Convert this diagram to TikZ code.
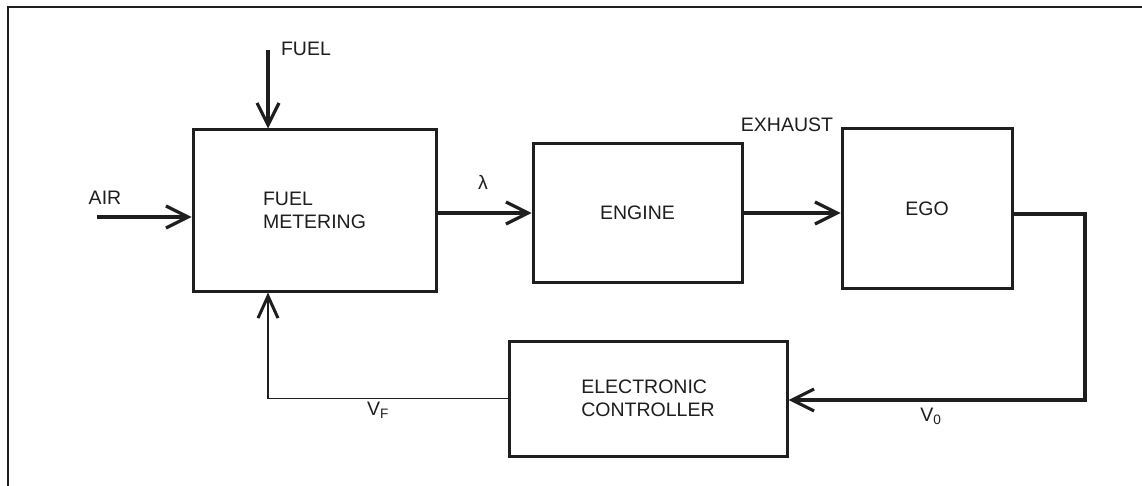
\documentclass[tikz,border=0pt]{standalone}
\usepackage{fontspec}
\setmainfont{Liberation Sans}
\usepackage{xcolor}
\usetikzlibrary{arrows.meta,positioning}

\definecolor{ink}{HTML}{1E1E1E}

\begin{document}
\begin{tikzpicture}[
  x=1pt, y=-1pt,
  font=\fontsize{19.5}{23}\selectfont,
  box/.style={draw=ink,line width=3pt,align=left,text=ink},
  lbl/.style={text=ink,inner sep=0pt},
  arrow/.style={-{Straight Barb[length=22pt,width=22pt]},line width=3.2pt,draw=ink},
  arrowthin/.style={-{Straight Barb[length=22pt,width=20pt,line width=3pt]},line width=1.7pt,draw=ink}
]
\useasboundingbox[fill=white] (0,0) rectangle (1142,486);
% page frame
\draw[ink,line width=2.8pt] (8,486) -- (8,7) -- (1142,7);

\node[box,minimum width=243pt,minimum height=161pt] (meter) at (314.5,210.5) {FUEL\\METERING};
\node[box,minimum width=209pt,minimum height=138pt] (engine) at (637.5,213) {ENGINE};
\node[box,minimum width=170pt,minimum height=159pt] (ego) at (927,208.5) {EGO};
\node[box,minimum width=278pt,minimum height=115pt] (ctrl) at (648,398.5) {ELECTRONIC\\CONTROLLER};

\coordinate (air) at (97,217);
\coordinate (fuel) at (268,50);
\coordinate (turn) at (1085,400);

\node[lbl] (airlbl) at (105,198) {AIR};
\node[lbl] (fuellbl) at (306,49) {FUEL};
\node[lbl] (lam) at (483,182) {λ};
\node[lbl] (exh) at (787,125) {EXHAUST};
\node[lbl] (vf) at (378,410) {V\textsubscript{F}};
\node[lbl] (vo) at (931,416) {V\textsubscript{0}};

\draw[arrow] (air) -- (air -| meter.west);
\draw[arrow] (fuel) -- (fuel |- meter.north);
\draw[arrow] (meter.east |- engine.west) -- (engine.west);
\draw[arrow] (engine.east) -- (engine.east -| ego.west);
\draw[arrow] ([yshift=-5.5pt]ego.east) -| (turn) -- (turn -| ctrl.east);
\draw[arrowthin] (ctrl.west) -| (fuel |- meter.south);
\end{tikzpicture}
\end{document}
